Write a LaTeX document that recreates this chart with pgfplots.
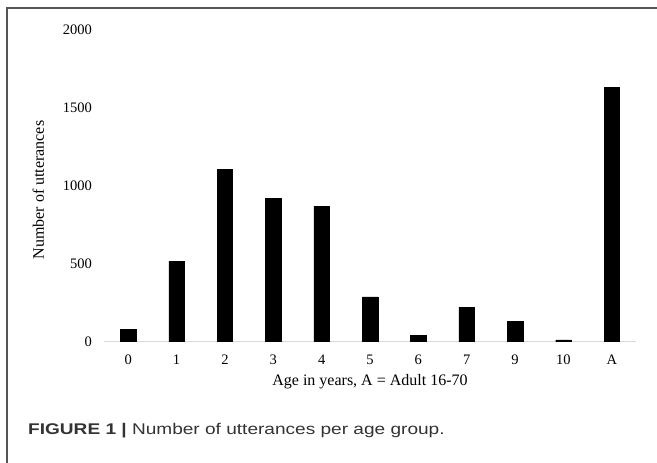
\documentclass[border=0pt]{standalone}
\usepackage{pgfplots}
\pgfplotsset{compat=1.18}
\usepackage{fontspec}
\setmainfont{Liberation Serif}
\newfontfamily\capfont[FakeStretch=1.23]{Liberation Sans}
\definecolor{framegray}{HTML}{555555}
\definecolor{axisgray}{HTML}{D9D9D9}
\definecolor{captext}{HTML}{333333}
\begin{document}
\begin{tikzpicture}
\useasboundingbox (0pt,0pt) rectangle (657pt,463pt);
% outer frame (only top and left edges fall inside the picture)
\draw[framegray, line width=1.5pt] (7pt,0pt) -- (7pt,455pt) -- (657pt,455pt);
\begin{axis}[
  at={(104pt,121pt)}, anchor=south west,
  scale only axis,
  width=532pt, height=312pt,
  ybar, bar width=15.5pt,
  xmin=-0.5, xmax=10.5,
  ymin=0, ymax=2000,
  xtick=data,
  xticklabels={0,1,2,3,4,5,6,7,9,10,A},
  ytick={0,500,1000,1500,2000},
  axis x line*=bottom, axis y line*=left,
  x axis line style={axisgray, line width=1pt, -},
  y axis line style={draw=none},
  major tick length=0pt,
  /pgf/number format/assume math mode=true,
  /pgf/number format/1000 sep={},
  ticklabel style={font=\fontsize{14.5}{16}\selectfont},
  xticklabel style={anchor=north, inner sep=0pt, yshift=-13pt},
  yticklabel style={anchor=east, inner sep=0pt, xshift=-12pt},
  xlabel={Age in years, A = Adult 16-70},
  ylabel={Number of utterances},
  label style={font=\fontsize{16}{18}\selectfont},
  xlabel style={at={(axis description cs:0.5,0)}, anchor=base, yshift=-44pt},
  ylabel style={at={(axis description cs:-0.1128,0.487)}, anchor=base},
]
\addplot[fill=black, draw=black] coordinates {
  (0,82) (1,518) (2,1105) (3,923) (4,870) (5,290) (6,43) (7,224) (8,134) (9,13) (10,1634)
};
\end{axis}
\node[anchor=base west, inner sep=0pt, text=captext, font=\capfont\fontsize{15.5}{18}\selectfont]
  at (28pt,28pt) {\textbf{FIGURE 1 |} Number of utterances per age group.};
\end{tikzpicture}
\end{document}
